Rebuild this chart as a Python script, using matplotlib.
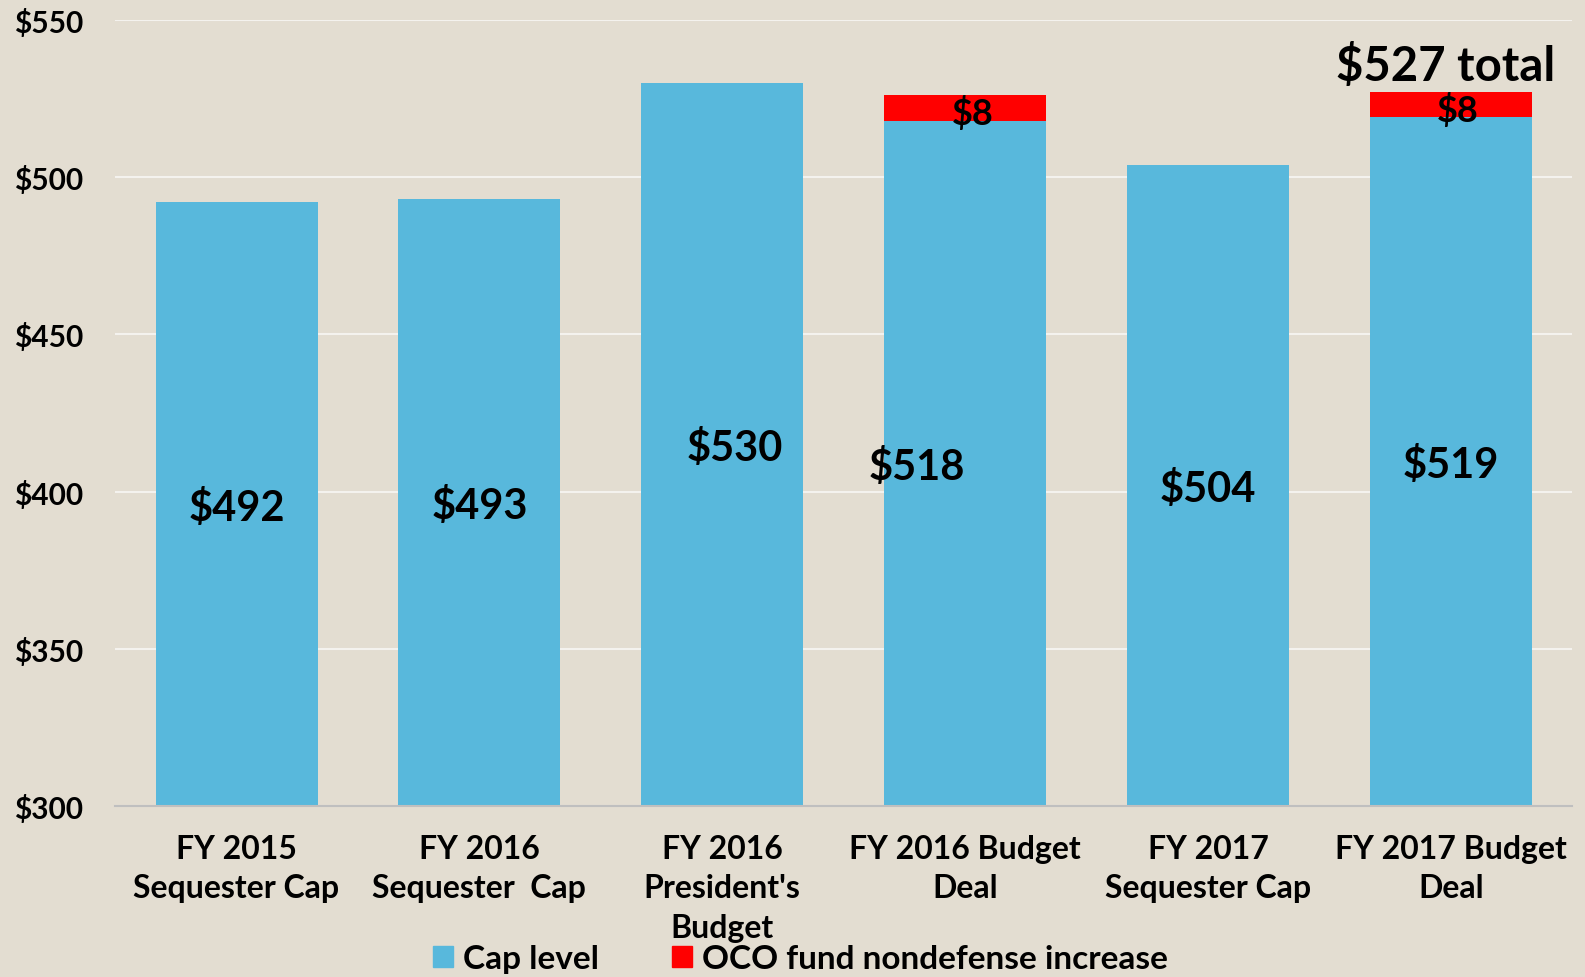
import numpy as np
import matplotlib.pyplot as plt
from matplotlib.patches import Patch

# dados
categorias = ["FY 2015\nSequester Cap", "FY 2016\nSequester  Cap",
              "FY 2016\nPresident's\nBudget", "FY 2016 Budget\nDeal",
              "FY 2017\nSequester Cap", "FY 2017 Budget\nDeal"]
cap_level = [492, 493, 530, 518, 504, 519]
oco_aumento = [0, 0, 0, 8, 0, 8]
rotulos_cap = ["$492", "$493", "$530", "$518", "$504", "$519"]
rotulos_oco = ["", "", "", "$8", "", "$8"]
total_texto = "$527 total"
yticks = [300, 350, 400, 450, 500, 550]

fundo = '#E3DDD1'
azul = '#58B8DC'
vermelho = '#FF0000'

plt.rcParams['font.family'] = ['Lato', 'DejaVu Sans']
plt.rcParams['font.weight'] = 'bold'

fig = plt.figure(figsize=(15.85, 9.78), dpi=100, facecolor=fundo)
ax = fig.add_axes([0.0726, 0.175, 0.9194, 0.8035], facecolor=fundo)

x = np.arange(len(categorias))
base = 300
ax.bar(x, np.array(cap_level) - base, bottom=base, width=0.667, color=azul, zorder=2)
ax.bar(x, oco_aumento, bottom=cap_level, width=0.667, color=vermelho, zorder=2)

ax.set_ylim(300, 550)
ax.set_xlim(-0.5, len(categorias) - 0.5)

# rótulos
deslocamento = [0, 0, 0.05, -0.2, 0, 0]
for i in range(len(x)):
    ax.text(x[i] + deslocamento[i], (base + cap_level[i]) / 2 - 1, rotulos_cap[i],
            ha='center', va='center', fontsize=30, fontweight='bold', zorder=3)
    if oco_aumento[i] > 0:
        ax.text(x[i] + 0.03, cap_level[i] + oco_aumento[i] / 2 - 1.5, rotulos_oco[i],
                ha='center', va='center', fontsize=26, fontweight='bold', zorder=3)
ax.text(x[-1] - 0.02, cap_level[-1] + oco_aumento[-1] + 1.5, total_texto,
        ha='center', va='bottom', fontsize=34, fontweight='bold', zorder=3)

ax.set_yticks(yticks)
ax.set_yticklabels(['$%d' % v for v in yticks], fontsize=21.5, fontweight='bold')
for lbl in ax.get_yticklabels():
    lbl.set_horizontalalignment('left')
ax.tick_params(axis='y', length=0, pad=73)

ax.set_xticks(x)
ax.set_xticklabels(categorias, fontsize=23, fontweight='bold', linespacing=1.45)
ax.tick_params(axis='x', length=0, pad=20)

ax.grid(axis='y', color='#F4F2EE', linewidth=1.5, zorder=0)
for s in ['top', 'right', 'left']:
    ax.spines[s].set_visible(False)
ax.spines['bottom'].set_color('#BFBFBF')
ax.spines['bottom'].set_linewidth(1.5)

legenda = [Patch(color=azul, label='Cap level'),
           Patch(color=vermelho, label='OCO fund nondefense increase')]
fig.legend(handles=legenda, loc='center', bbox_to_anchor=(0.505, 0.019), ncol=2,
           frameon=False, fontsize=24, handlelength=0.6, handleheight=0.6,
           handletextpad=0.3, columnspacing=2.2)

plt.savefig('out.png', dpi=100, facecolor=fundo)
